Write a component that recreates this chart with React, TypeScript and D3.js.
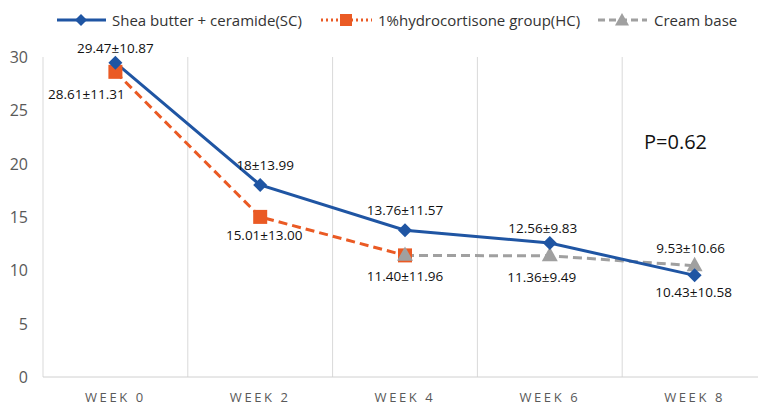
import React from "react";
import * as d3 from "d3";

const categories = ["WEEK 0", "WEEK 2", "WEEK 4", "WEEK 6", "WEEK 8"];
const scValues: (number | null)[] = [29.47, 18, 13.76, 12.56, 9.53];
const hcValues: (number | null)[] = [28.61, 15.01, 11.4, null, null];
const cbValues: (number | null)[] = [null, null, 11.4, 11.36, 10.43];
const yTicks = [0, 5, 10, 15, 20, 25, 30];

// data labels: text, category index, value anchor, offset
const labels: { text: string; cat: number; v: number; dx: number; dy: number }[] = [
  { text: "29.47±10.87", cat: 0, v: 29.47, dx: 0, dy: -15 },
  { text: "28.61±11.31", cat: 0, v: 28.61, dx: -29, dy: 22 },
  { text: "18±13.99", cat: 1, v: 18, dx: 5, dy: -20 },
  { text: "15.01±13.00", cat: 1, v: 15.01, dx: 4, dy: 18 },
  { text: "13.76±11.57", cat: 2, v: 13.76, dx: 0, dy: -20 },
  { text: "11.40±11.96", cat: 2, v: 11.4, dx: 0, dy: 21 },
  { text: "12.56±9.83", cat: 3, v: 12.56, dx: -7, dy: -15 },
  { text: "11.36±9.49", cat: 3, v: 11.36, dx: -8, dy: 21 },
  { text: "9.53±10.66", cat: 4, v: 10.43, dx: -4, dy: -18 },
  { text: "10.43±10.58", cat: 4, v: 9.53, dx: -1, dy: 17 },
];

const W = 758;
const H = 405;
const BLUE = "#1F55A3";
const ORANGE = "#EA5A24";
const GRAY = "#A0A0A0";
const FONT = "'Open Sans', 'Noto Sans', sans-serif";

export default function App() {
  const x = d3.scaleBand<string>().domain(categories).range([43, 767]).paddingInner(0).paddingOuter(0);
  const y = d3.scaleLinear().domain([0, 30]).range([377, 57]);
  const cx = (i: number) => (x(categories[i]) as number) + x.bandwidth() / 2;

  const line = d3
    .line<number | null>()
    .defined((d) => d !== null)
    .x((_, i) => cx(i))
    .y((d) => y(d as number));

  const diamond = (px: number, py: number, r = 7) =>
    `M${px},${py - r}L${px + r},${py}L${px},${py + r}L${px - r},${py}Z`;
  const triangle = (px: number, py: number, r = 8) =>
    `M${px},${py - r}L${px + r},${py + r * 0.8}L${px - r},${py + r * 0.8}Z`;

  const boundaries = categories.map((c) => x(c) as number).concat([x.range()[1]]);

  return (
    <svg width={W} height={H} style={{ display: "block", position: "absolute", left: 0, top: 0 }}>
      <rect width={W} height={H} fill="#fff" />
      {boundaries.map((b, i) => (
        <line key={i} x1={b} x2={b} y1={y(30)} y2={y(0)} stroke="#D9D9D9" strokeWidth={1} />
      ))}
      <line x1={43} x2={W} y1={y(0)} y2={y(0)} stroke="#D0D0D0" strokeWidth={1} />
      {yTicks.map((t) => (
        <text key={t} x={28} y={y(t)} textAnchor="end" dominantBaseline="central" fontFamily={FONT} fontSize={16} fill="#595959">
          {t}
        </text>
      ))}
      {categories.map((c, i) => (
        <text key={c} x={cx(i)} y={397} textAnchor="middle" dominantBaseline="central" fontFamily={FONT} fontSize={13} letterSpacing={2.6} fill="#595959">
          {c}
        </text>
      ))}
      <path d={line(cbValues) || ""} fill="none" stroke={GRAY} strokeWidth={3} strokeDasharray="9,5" />
      <path d={line(hcValues) || ""} fill="none" stroke={ORANGE} strokeWidth={3} strokeDasharray="9,5" />
      <path d={line(scValues) || ""} fill="none" stroke={BLUE} strokeWidth={3} />
      {hcValues.map((v, i) =>
        v === null ? null : <rect key={"h" + i} x={cx(i) - 7} y={y(v) - 7} width={14} height={14} fill={ORANGE} />
      )}
      {cbValues.map((v, i) => (v === null ? null : <path key={"c" + i} d={triangle(cx(i), y(v) - 1)} fill={GRAY} />))}
      {scValues.map((v, i) => (v === null ? null : <path key={"s" + i} d={diamond(cx(i), y(v))} fill={BLUE} />))}
      {labels.map((l, i) => (
        <text key={i} x={cx(l.cat) + l.dx} y={y(l.v) + l.dy} textAnchor="middle" dominantBaseline="central" fontFamily={FONT} fontSize={13.5} fill="#111">
          {l.text}
        </text>
      ))}
      <text x={644} y={141} dominantBaseline="central" fontFamily={FONT} fontSize={20} fill="#111">
        P=0.62
      </text>
      <g fontFamily={FONT} fontSize={15} fill="#333">
        <line x1={57} x2={106} y1={20} y2={20} stroke={BLUE} strokeWidth={3} />
        <path d={diamond(81, 20, 6)} fill={BLUE} />
        <text x={112} y={20} dominantBaseline="central">Shea butter + ceramide(SC)</text>
        <line x1={321} x2={372} y1={20} y2={20} stroke={ORANGE} strokeWidth={3} strokeDasharray="2,3" />
        <rect x={340} y={14} width={12} height={12} fill={ORANGE} />
        <text x={378} y={20} dominantBaseline="central">1%hydrocortisone group(HC)</text>
        <line x1={598} x2={647} y1={20} y2={20} stroke={GRAY} strokeWidth={3} strokeDasharray="7,4" />
        <path d={triangle(622, 20, 7)} fill={GRAY} />
        <text x={654} y={20} dominantBaseline="central">Cream base</text>
      </g>
    </svg>
  );
}
